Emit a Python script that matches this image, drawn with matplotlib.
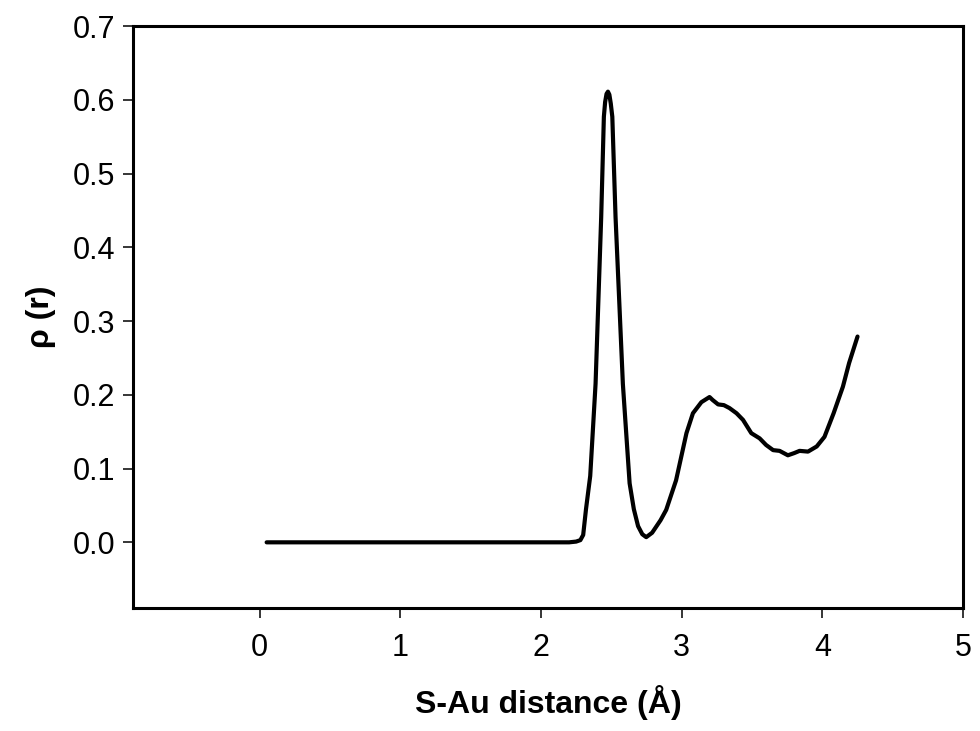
import matplotlib
matplotlib.use('Agg')
import matplotlib.pyplot as plt
from matplotlib.ticker import FormatStrFormatter

plt.rcParams['font.family'] = ['Liberation Sans', 'DejaVu Sans']

# S-Au distance (Angstrom) and rho(r)
distance = [0.05, 0.5, 1.0, 1.5, 2.0, 2.2, 2.25, 2.28, 2.30, 2.32, 2.35, 2.388,
            2.428, 2.447, 2.456, 2.466, 2.476, 2.486, 2.496, 2.507, 2.53,
            2.582, 2.63, 2.66, 2.69, 2.72, 2.748, 2.79, 2.85, 2.89, 2.96,
            3.034, 3.08, 3.14, 3.198, 3.22, 3.259, 3.30, 3.34, 3.39, 3.436,
            3.495, 3.554, 3.60, 3.65, 3.696, 3.755, 3.80, 3.838, 3.898, 3.96,
            4.015, 4.08, 4.146, 4.19, 4.25]
rho = [0.0, 0.0, 0.0, 0.0, 0.0, 0.0, 0.001, 0.003, 0.01, 0.045, 0.09, 0.215,
       0.441, 0.577, 0.597, 0.608, 0.611, 0.607, 0.595, 0.577, 0.441,
       0.215, 0.08, 0.045, 0.022, 0.011, 0.007, 0.013, 0.03, 0.044, 0.084,
       0.148, 0.175, 0.19, 0.197, 0.193, 0.187, 0.186, 0.182, 0.175, 0.166,
       0.148, 0.141, 0.132, 0.125, 0.124, 0.118, 0.121, 0.124, 0.123, 0.13,
       0.143, 0.175, 0.211, 0.243, 0.279]

x_ticks = [0, 1, 2, 3, 4, 5]
y_ticks = [0.0, 0.1, 0.2, 0.3, 0.4, 0.5, 0.6, 0.7]

fig = plt.figure(figsize=(9.8, 7.31), dpi=100)
ax = fig.add_axes([0.1357, 0.1683, 0.847, 0.7961])

ax.plot(distance, rho, color='black', linewidth=3, solid_joinstyle='round',
        solid_capstyle='round')

ax.set_xlim(-0.9, 5)
ax.set_ylim(-0.089, 0.7)
ax.set_xticks(x_ticks)
ax.set_yticks(y_ticks)
ax.yaxis.set_major_formatter(FormatStrFormatter('%.1f'))

for side in ax.spines.values():
    side.set_linewidth(2.2)
ax.tick_params(direction='out', length=7, width=1.1, labelsize=22)
ax.tick_params(axis='x', pad=11)
ax.tick_params(axis='y', pad=6)

ax.set_xlabel('S-Au distance (Å)', fontsize=23, fontweight='bold', labelpad=16)
ax.set_ylabel('ρ (r)', fontsize=23, fontweight='bold', labelpad=12)

fig.savefig('out.png', dpi=100)
